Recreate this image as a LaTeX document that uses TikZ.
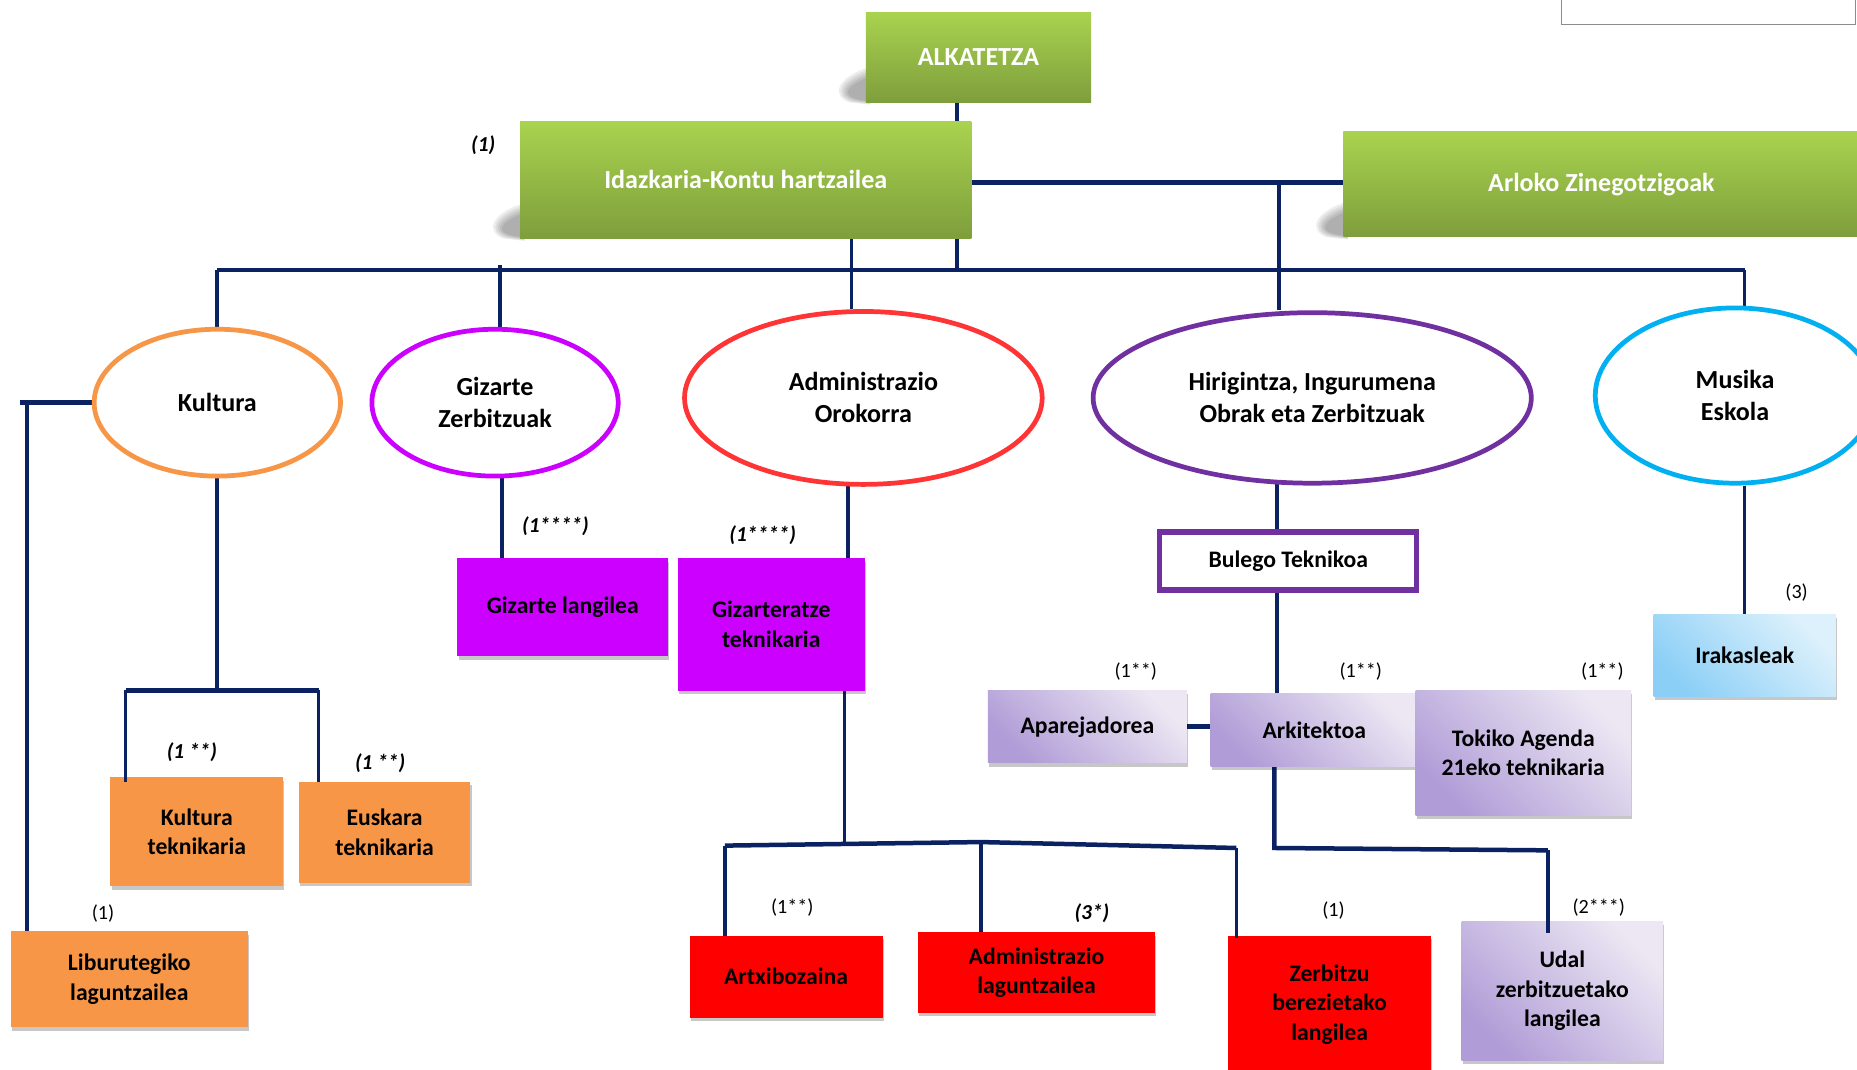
\documentclass[tikz,border=0pt]{standalone}
\usepackage{fontspec}
\setmainfont{Carlito}
\usetikzlibrary{shapes.geometric,shadows,calc}
\pgfdeclarelayer{paper}
\pgfdeclarelayer{bg}
\pgfsetlayers{paper,bg,main}
\definecolor{navy}{HTML}{0B2262}
\definecolor{greenT}{HTML}{A9D34F}
\definecolor{greenB}{HTML}{7E9E3C}
\definecolor{orng}{HTML}{F79646}
\definecolor{magen}{HTML}{CC00FF}
\definecolor{redE}{HTML}{FF3535}
\definecolor{redB}{HTML}{FF0000}
\definecolor{purp}{HTML}{7030A0}
\definecolor{cyanE}{HTML}{00B0F0}
\definecolor{lavD}{HTML}{B09CD7}
\definecolor{lavL}{HTML}{ECE7F3}
\definecolor{bluD}{HTML}{8CCFF6}
\definecolor{bluL}{HTML}{DDF1FC}
\tikzset{
  conn/.style={draw=navy, line width=3.2pt},
  bar/.style={draw=navy, line width=3.8pt},
  bigtxt/.style={font=\fontsize{22}{27}\selectfont\bfseries, align=center},
  smalltxt/.style={font=\fontsize{20}{25}\selectfont\bfseries, align=center},
  sz/.style 2 args={minimum width=#1, minimum height=#2},
  greenbox/.style={bigtxt, text=white, top color=greenT, bottom color=greenB, draw=none, inner sep=0, anchor=north west},
  area/.style={ellipse, draw=#1, fill=white, line width=4pt, inner sep=0, bigtxt},
  shad/.style={drop shadow={shadow xshift=1pt, shadow yshift=-3pt, fill=black, opacity=0.22}},
  box/.style={smalltxt, anchor=north west, inner sep=0, fill=#1, shad},
  lavbox/.style={smalltxt, anchor=north west, inner sep=0, bottom color=lavD, top color=lavL, shading angle=-45, shad},
  blubox/.style={smalltxt, anchor=north west, inner sep=0, bottom color=bluD, top color=bluL, shading angle=-45, shad},
  notebi/.style={font=\fontsize{18}{20}\selectfont\bfseries\itshape},
  notere/.style={font=\fontsize{17}{20}\selectfont},
  smear/.style={fill=black, fill opacity=0.07},
}
\newcommand{\gshadow}[1]{%
  \foreach \s in {0,2,4,6,8}{%
    \fill[smear] ($(#1.south west)+(4,-30+\s)$) .. controls ($(#1.south west)+(-24+\s,-22+\s)$) and ($(#1.south west)+(-30+\s,-6)$) .. ($(#1.south west)+(-14+\s,0-\s*0.3)$) -- ($(#1.south west)+(4,2-\s*0.3)$) -- cycle;}%
}
\begin{document}
\begin{tikzpicture}[x=1pt,y=-1pt]
\useasboundingbox (0,0) rectangle (1568,903);
\clip (0,0) rectangle (1568,903);
\begin{pgfonlayer}{paper}
\fill[white] (0,0) rectangle (1568,903);
\end{pgfonlayer}

% top-right frame
\node[draw=black!45, line width=1.3pt, anchor=north west, sz={248}{30}, inner sep=0] (frame) at (1318,-10) {};

% green boxes
\node[greenbox, sz={190}{76}] (alk) at (731,10) {ALKATETZA};
\node[greenbox, sz={381}{99}] (idz) at (439,102) {Idazkaria-Kontu hartzailea};
\node[greenbox, sz={436}{89}, anchor=west] (arl) at (1134,155.5) {Arloko Zinegotzigoak};
\node[notebi] (n1) at (408,123) {(1)};
\begin{pgfonlayer}{bg}
\gshadow{alk}
\gshadow{idz}
\gshadow{arl}
\end{pgfonlayer}

% areas
\node[area=orng, sz={208}{124}] (kult) at (183.5,340) {Kultura};
\node[area=magen, sz={208}{124}] (giz) at (418,340) {Gizarte\\Zerbitzuak};
\node[area=redE, sz={302}{146}] (adm) at (729,336) {Administrazio\\Orokorra};
\node[area=purp, sz={370}{144}] (hir) at (1108,336) {Hirigintza, Ingurumena\\Obrak eta Zerbitzuak};
\node[area=cyanE, sz={236}{148}] (mus) at (1465,334) {Musika\\Eskola};

% boxes
\node[draw=purp, line width=4.5pt, fill=white, smalltxt, anchor=north west, sz={217}{49}, inner sep=0] (bul) at (977,447) {Bulego Teknikoa};
\node[box=magen, sz={178}{83}] (gl) at (386,471) {Gizarte langilea};
\node[box=magen, sz={158}{112}] (gt) at (572,471) {Gizarteratze\\teknikaria};
\node[box=orng, sz={146}{92}] (kt) at (93,656) {Kultura\\teknikaria};
\node[box=orng, sz={145}{85}] (et) at (252,660) {Euskara\\teknikaria};
\node[box=orng, sz={200}{81}] (lib) at (9,786) {Liburutegiko\\laguntzailea};
\node[box=redB, sz={163}{69}] (art) at (582,790) {Artxibozaina};
\node[box=redB, sz={200}{68}] (al) at (775,787) {Administrazio\\laguntzailea};
\node[box=redB, sz={171}{116}] (zb) at (1037,790) {Zerbitzu\\berezietako\\langilea};
\node[lavbox, sz={170}{117}] (udal) at (1234,778) {Udal\\zerbitzuetako\\langilea};
\node[lavbox, sz={168}{61}] (apa) at (834,583) {Aparejadorea};
\node[lavbox, sz={175}{62}] (ark) at (1022,585) {Arkitektoa};
\node[lavbox, sz={182}{105}] (tok) at (1195,583) {Tokiko Agenda\\21eko teknikaria};
\node[blubox, sz={154}{69}] (ira) at (1396,519) {Irakasleak};

% notes
\node[notebi] (n2) at (469,444) {(1****)};
\node[notebi] (n3) at (644,452) {(1****)};
\node[notebi] (n4) at (162,635) {(1 **)};
\node[notebi] (n5) at (321,644) {(1 **)};
\node[notebi] (n6) at (922,771) {(3*)};
\node[notere] (n7) at (87,771) {(1)};
\node[notere] (n8) at (669,766) {(1**)};
\node[notere] (n9) at (1126,769) {(1)};
\node[notere] (n10) at (1350,766) {(2***)};
\node[notere] (n11) at (959,567) {(1**)};
\node[notere] (n12) at (1149,567) {(1**)};
\node[notere] (n13) at (1353,567) {(1**)};
\node[notere] (n14) at (1517,500) {(3)};

% junction coordinates
\coordinate (jA) at (808,228);
\coordinate (jB) at (719,228);
\coordinate (busL) at (183.5,228);
\coordinate (busR) at (1473,228);
\coordinate (jG) at (422,224);
\coordinate (jH) at (1080,154);
\coordinate (kbar) at (183.5,583);
\coordinate (kbL) at (106,583);
\coordinate (kbR) at (269,583);
\coordinate (kfeed) at (17,340);
\coordinate (kfeed2) at (23,340);
\coordinate (jG2) at (424,401);
\coordinate (jA2) at (716,409);
\coordinate (jA3) at (713,712);
\coordinate (rbL) at (612,714);
\coordinate (rbM) at (828,711);
\coordinate (rbR) at (1044,716);
\coordinate (jB1) at (1078,408);
\coordinate (jK) at (1076,716);
\coordinate (jK2) at (1307,718);

\begin{pgfonlayer}{bg}
\draw[conn] (alk.south -| jA) -- (idz.north -| jA);
\draw[conn] (idz.south -| jA) -- (jA);
\draw[conn] (idz.south -| jB) -- (adm.north -| jB);
\draw[bar] (busL) -- (busR);
\draw[conn] (busL) -- (kult.north);
\draw[conn] (jG) -- (jG |- giz.north);
\draw[bar] (idz.east |- jH) -- (arl.west |- jH);
\draw[conn] (jH) -- (jH |- hir.north);
\draw[conn] (busR) -- (busR |- mus.north);
\draw[conn] (kult.south) -- (kbar);
\draw[bar] (kbL) -- (kbR);
\draw[bar] (kult.west) -- (kfeed);
\draw[conn] (kfeed2) -- (kfeed2 |- lib.north);
\draw[conn] (jG2) -- (jG2 |- gl.north);
\draw[conn] (jA2) -- (jA2 |- gt.north);
\draw[conn] (gt.south -| jA3) -- (jA3);
\draw[bar] (rbL) -- (rbM) -- (rbR);
\draw[conn] (rbL) -- (rbL |- art.north);
\draw[conn] (rbM) -- (rbM |- al.north);
\draw[conn] (jB1) -- (jB1 |- bul.north);
\draw[conn] (bul.south -| jB1) -- (jB1 |- ark.north);
\draw[conn, line width=4.5pt] (apa.east) -- (apa.east -| ark.west);
\draw[bar] (ark.south -| jK) -- (jK) -- (jK2);
\draw[conn] (busR |- mus.south) -- (busR |- ira.north);
\end{pgfonlayer}
\draw[conn] (kbL) -- ([yshift=-4pt]kbL |- kt.north);
\draw[conn] (kbR) -- (kbR |- et.north);
\draw[conn] (rbR) -- ([yshift=-2pt]rbR |- zb.north);
\draw[conn] (jK2) -- ([yshift=-10pt]jK2 |- udal.north);
\end{tikzpicture}
\end{document}
